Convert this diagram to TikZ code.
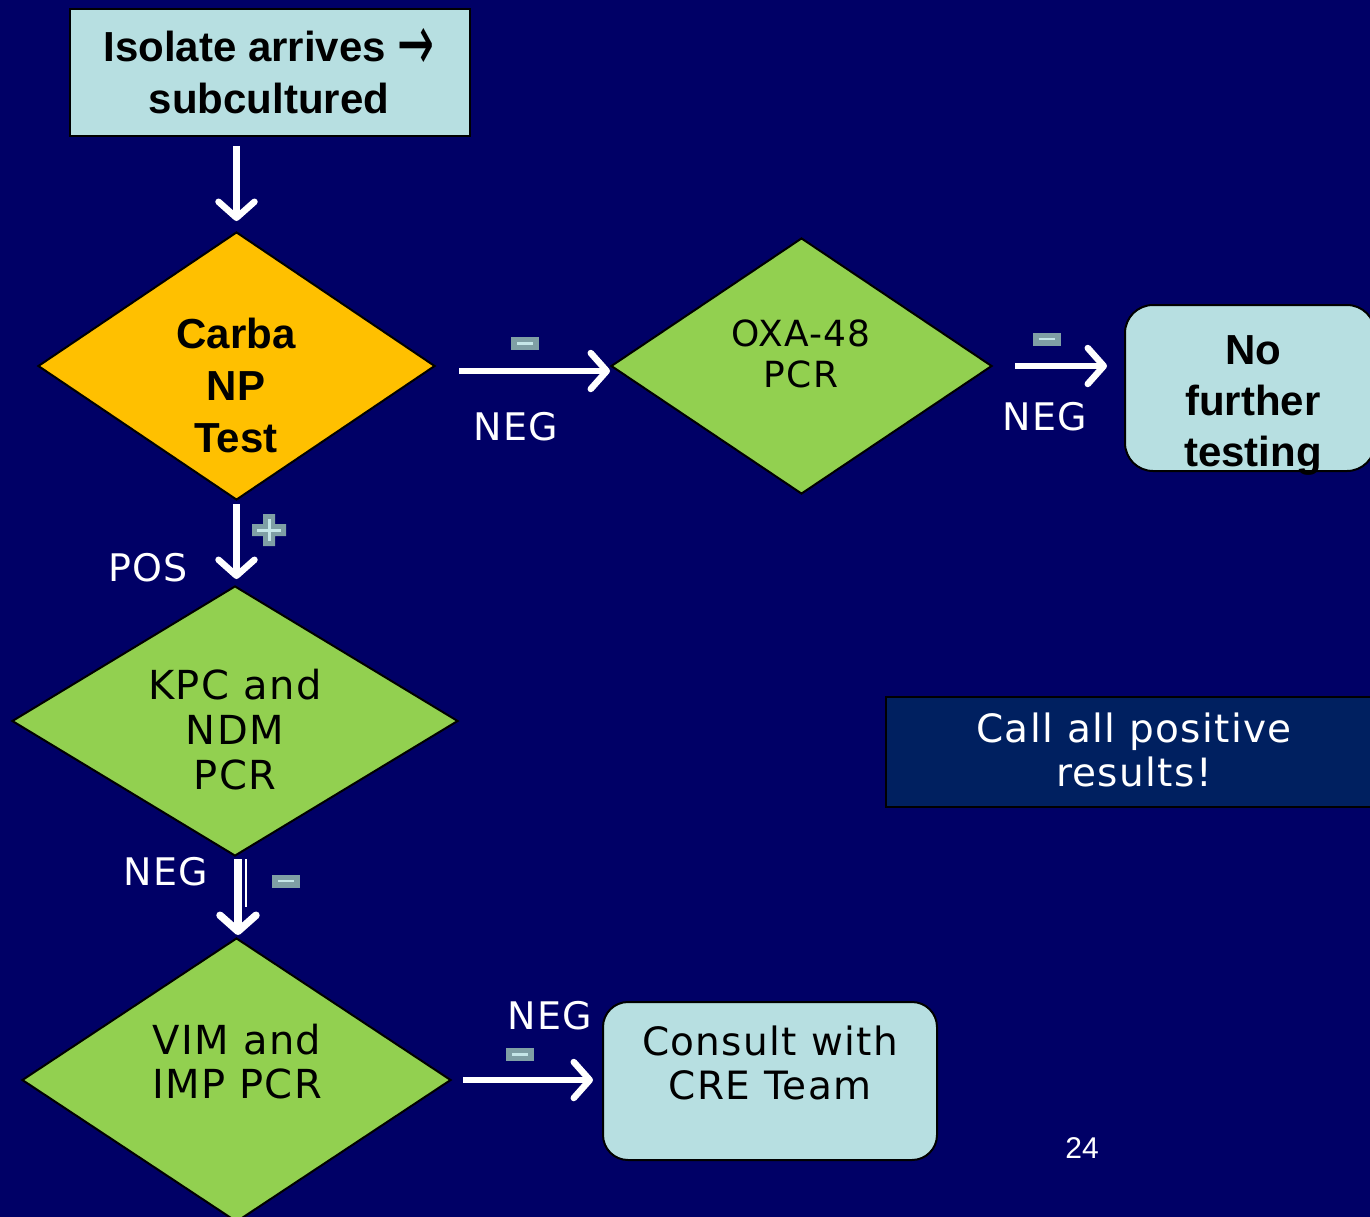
\documentclass[tikz,border=0pt]{standalone}
\usepackage{fontspec}
\setmainfont{Liberation Sans}
\newfontfamily\dv{DejaVu Sans}[LetterSpace=3.5]
\newfontfamily\dvarrow{DejaVu Sans}
\usetikzlibrary{shapes.geometric,arrows.meta,calc}
\definecolor{bg}{HTML}{000066}
\definecolor{lbox}{HTML}{B7DFE1}
\definecolor{orng}{HTML}{FFC000}
\definecolor{grn}{HTML}{92D050}
\definecolor{callbg}{HTML}{002060}
\definecolor{signfill}{HTML}{7F9FA5}
\definecolor{signline}{HTML}{C5E6E8}
\begin{document}
\begin{tikzpicture}[x=1pt,y=-1pt,
  dia/.style={shape=diamond, draw=black, line width=2pt, inner sep=0pt},
  boxst/.style={draw=black, line width=2pt, inner sep=0pt},
  boldtxt/.style={font=\bfseries\fontsize{42}{52}\selectfont, align=center, text=black, inner sep=0pt},
  regtxt/.style={font=\dv\fontsize{40}{45}\selectfont, align=center, inner sep=0pt},
  lbl/.style={text=white, font=\dv\fontsize{38}{44}\selectfont, inner sep=0pt},
  flow/.style={draw=white, line width=6.5pt, -{Straight Barb[length=16pt,width=36pt,round]}},
  minussign/.style={minimum width=28pt, minimum height=13pt, inner sep=0pt, fill=signfill,
    path picture={\draw[signline, line width=2.5pt] ([xshift=6pt]path picture bounding box.west) -- ([xshift=-6pt]path picture bounding box.east);}}
]
\clip (0,0) rectangle (1370,1217);
\fill[bg] (0,0) rectangle (1370,1217);

% start box
\node[boxst, fill=lbox, minimum width=400pt, minimum height=127pt] (start) at (270,72.5) {};
\node[boldtxt] (startT) at (269,71) {Isolate arrives {\dvarrow\mdseries\raisebox{-9pt}{\scalebox{1.05}[1.9]{→}}}\\subcultured};

% Carba NP diamond
\node[dia, fill=orng, minimum width=397pt, minimum height=268pt] (carba) at (236.5,366) {};
\node[boldtxt] (carbaT) at (236,385) {Carba\\NP\\Test};

% OXA-48 diamond
\node[dia, fill=grn, minimum width=381pt, minimum height=256pt] (oxa) at (801.5,366) {};
\node[regtxt, font=\dv\fontsize{36}{41}\selectfont] (oxaT) at (801,354) {OXA-48\\PCR};

% No further testing
\node[boxst, fill=lbox, rounded corners=28pt, minimum width=250pt, minimum height=166pt] (nofurther) at (1250,388) {};
\node[boldtxt, font=\bfseries\fontsize{42}{51}\selectfont] (nofurtherT) at (1253,405) {No\\further\\testing};

% Call all positive results
\node[boxst, fill=callbg, minimum width=489pt, minimum height=110pt] (call) at (1130.5,752) {};
\node[regtxt, text=white, font=\dv\fontsize{39}{44}\selectfont] (callT) at (1134,750) {Call all positive\\results!};

% KPC and NDM diamond
\node[dia, fill=grn, minimum width=446pt, minimum height=270pt] (kpc) at (235,721) {};
\node[regtxt] (kpcT) at (235,730) {KPC and\\NDM\\PCR};

% VIM and IMP diamond
\node[dia, fill=grn, minimum width=429pt, minimum height=284pt] (vim) at (236.5,1080) {};
\node[regtxt, font=\dv\fontsize{40}{44}\selectfont] (vimT) at (237,1062) {VIM and\\IMP PCR};

% Consult box
\node[boxst, fill=lbox, rounded corners=25pt, minimum width=334pt, minimum height=158pt] (consult) at (770,1081) {};
\node[regtxt, font=\dv\fontsize{39}{44}\selectfont] (consultT) at (770,1063) {Consult with\\CRE Team};

% page number
\node[text=white, font=\fontsize{30}{34}\selectfont, inner sep=0pt] (pagenum) at (1082,1148) {24};

% connectors
\draw[flow] ($(carba.north|-start.south)+(0,9)$) -- ($(carba.north)+(0,-10)$);
\draw[flow] ($(carba.east)+(23,5)$) -- ($(oxa.west)+(0,5)$);
\draw[flow] ($(oxa.east)+(22,0)$) -- ($(nofurther.west)+(-17,-22)$);
\draw[flow] ($(carba.south)+(0,3)$) -- ($(carba.south|-kpc.north)+(0,-6)$);
\draw[flow, line width=7.5pt] ($(kpc.south)+(3,2)$) -- ($(kpc.south|-vim.north)+(3,-2)$);
\draw[white, line width=2.5pt] ($(kpc.south)+(11,2)$) -- ($(kpc.south)+(11,50)$);
\draw[flow] ($(vim.east)+(11,0)$) -- ($(consult.west)+(-9,-1)$);

% signs
\node[minussign] (m1) at (525,343.5) {};
\node[minussign] (m2) at (1046.5,339) {};
\node[minussign] (m3) at (286,881) {};
\node[minussign] (m4) at (520,1054.5) {};
\node[inner sep=0pt, minimum width=34pt, minimum height=32pt] (plus) at (269,530) {};
\fill[signfill] (263,514) rectangle (275,546) (252,524) rectangle (286,536);
\draw[signline, line width=3pt] (269,519) -- (269,541) (257,530) -- (281,530);

% labels
\node[lbl] (neg1) at (516,427) {NEG};
\node[lbl] (neg2) at (1045,417) {NEG};
\node[lbl] (pos) at (148,568) {POS};
\node[lbl] (neg3) at (166,872) {NEG};
\node[lbl] (neg4) at (550,1016) {NEG};
\end{tikzpicture}
\end{document}
